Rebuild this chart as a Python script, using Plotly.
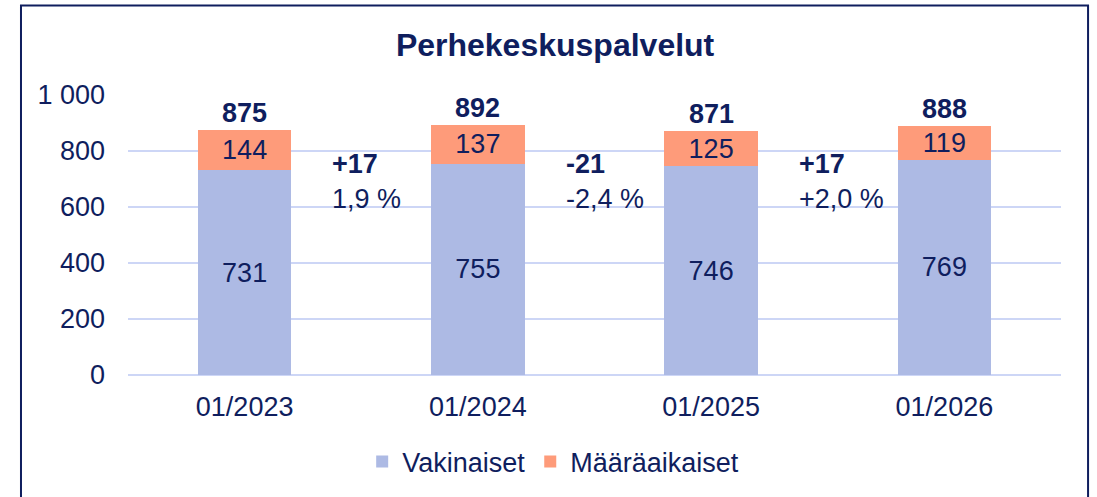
import plotly.graph_objects as go

categories = ["01/2023", "01/2024", "01/2025", "01/2026"]
vakinaiset = [731, 755, 746, 769]
maaraaikaiset = [144, 137, 125, 119]
totals = [875, 892, 871, 888]
changes = ["+17", "-21", "+17"]
change_pct = ["1,9 %", "-2,4 %", "+2,0 %"]
y_ticks = [0, 200, 400, 600, 800, 1000]
y_tick_labels = ["0", "200", "400", "600", "800", "1 000"]

NAVY = "#0F1E5E"
BLUE = "#ADBAE4"
SALMON = "#FE9B7A"
GRID = "#CDD6F6"
FONT = "Liberation Sans, Arial, sans-serif"
FS = 27

fig = go.Figure()
fig.add_trace(go.Bar(
    x=categories, y=vakinaiset, name="Vakinaiset",
    marker=dict(color=BLUE, line=dict(width=0)),
    text=vakinaiset, textposition="inside", insidetextanchor="middle",
    textfont=dict(size=FS, color=NAVY, family=FONT),
))
fig.add_trace(go.Bar(
    x=categories, y=maaraaikaiset, name="Määräaikaiset",
    marker=dict(color=SALMON, line=dict(width=0)),
    text=maaraaikaiset, textposition="inside", insidetextanchor="middle",
    textfont=dict(size=FS, color=NAVY, family=FONT),
))

for c, t in zip(categories, totals):
    fig.add_annotation(x=c, y=t, text=f"<b>{t}</b>", showarrow=False,
                       yanchor="bottom", yshift=0,
                       font=dict(size=FS, color=NAVY, family=FONT))

for i, (ch, pct) in enumerate(zip(changes, change_pct)):
    fig.add_annotation(x=i + 0.5, y=690, text=f"<b>{ch}</b><br>{pct}",
                       showarrow=False, xanchor="left", yanchor="middle",
                       align="left", xshift=-31,
                       font=dict(size=FS, color=NAVY, family=FONT))

# outer frame
fig.add_shape(type="rect", xref="paper", yref="paper",
              x0=-0.1147, x1=1.029, y0=-0.6, y1=1.32,
              line=dict(color=NAVY, width=2), layer="below")

fig.update_layout(
    width=1097, height=497,
    margin=dict(l=128, r=36, t=95, b=121),
    paper_bgcolor="white", plot_bgcolor="white",
    barmode="stack", bargap=0.6,
    uniformtext=dict(minsize=FS, mode="show"),
    font=dict(family=FONT, color=NAVY, size=FS),
    title=dict(text="<b>Perhekeskuspalvelut</b>", x=0.506, xref="container",
               xanchor="center", y=1 - 45 / 497, yref="container", yanchor="middle",
               font=dict(size=32, color=NAVY, family=FONT)),
    showlegend=True,
    legend=dict(orientation="h", x=0.251, xanchor="left", y=-0.306, yanchor="middle",
                font=dict(size=FS, color=NAVY, family=FONT), traceorder="normal",
                bgcolor="rgba(0,0,0,0)"),
    xaxis=dict(showgrid=False, showline=False, ticks="", ticklabelstandoff=13,
               tickfont=dict(size=FS, color=NAVY, family=FONT)),
    yaxis=dict(range=[0, 1000], tickvals=y_ticks, ticktext=y_tick_labels,
               showgrid=True, gridcolor=GRID, gridwidth=1.5, zeroline=True,
               zerolinecolor=GRID, zerolinewidth=1.5, showline=False, ticks="",
               ticklabelstandoff=22,
               tickfont=dict(size=FS, color=NAVY, family=FONT)),
)

fig.write_html("out.html", config={"displayModeBar": False},
               post_script="document.body.style.margin='0';")
